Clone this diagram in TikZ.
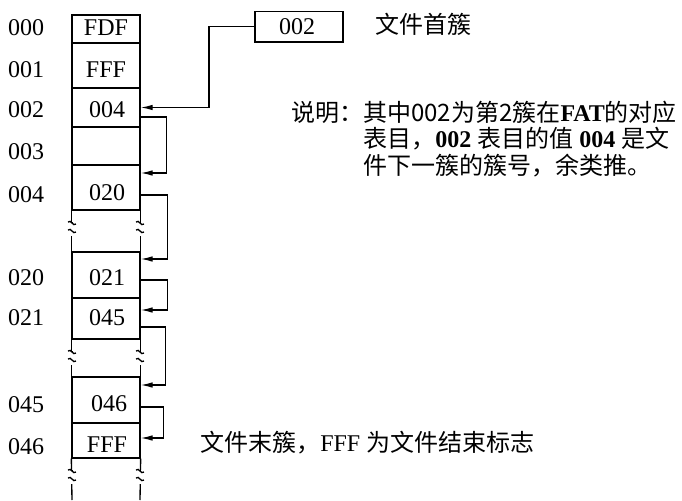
\documentclass[tikz,border=0pt]{standalone}
\usepackage{fontspec}
\setmainfont{Liberation Serif}
\newfontfamily\cjk{Noto Sans CJK SC}
\usetikzlibrary{arrows.meta,calc}
\begin{document}
\begin{tikzpicture}[x=0.75pt,y=-0.75pt,
  every node/.style={inner sep=0pt},
  cell/.style={draw,line width=1pt,minimum width=51pt},
  val/.style={font=\fontsize{18}{18}\selectfont},
  addr/.style={font=\fontsize{18}{18}\selectfont},
  note/.style={anchor=west,font=\fontsize{18}{18}\selectfont},
  link/.style={line width=1pt,-{Latex[length=9pt,width=4.2pt]}},
  edge/.style={line width=1pt},
  brk/.pic={
    \fill[white] (-6,-7) rectangle (6,7);
    \draw[line width=1pt] (-4,-7) .. controls (-1,-10) and (1,-2) .. (4,-5);
    \draw[line width=1pt] (-4,1) .. controls (-1,-2) and (1,6) .. (4,3);
    \draw[line width=1pt] (0,-7) -- (0,-6.5);
  }]
\useasboundingbox (0,0) rectangle (682,500);
% table cells
\node[cell,minimum height=21pt]   (r000) at (106,29)    {};
\node[cell,minimum height=33.75pt](r001) at (106,65.5)  {};
\node[cell,minimum height=29.25pt](r002) at (106,107.5) {};
\node[cell,minimum height=28.5pt] (r003) at (106,146)   {};
\node[cell,minimum height=33.75pt](r004) at (106,187.5) {};
\node[cell,minimum height=34.5pt] (r020) at (106,275)   {};
\node[cell,minimum height=30.75pt](r021) at (106,318.5) {};
\node[cell,minimum height=34.5pt] (r045) at (106,400)   {};
\node[cell,minimum height=26.25pt](r046) at (106,440.5) {};
% cell values
\node[val] (v000) at (106,28)  {FDF};
\node[val] (v001) at (106,70)  {FFF};
\node[val] (v002) at (107,110) {004};
\node[val] (v004) at (107,193) {020};
\node[val] (v020) at (107,278) {021};
\node[val] (v021) at (107,318) {045};
\node[val] (v045) at (109,404) {046};
\node[val] (v046) at (107,445) {FFF};
% continuing edges with breaks
\draw[edge] (r004.south west) -- (r020.north west);
\draw[edge] (r004.south east) -- (r020.north east);
\draw[edge] (r021.south west) -- (r045.north west);
\draw[edge] (r021.south east) -- (r045.north east);
\coordinate (bl) at (72,500);
\coordinate (br) at (140,500);
\draw[edge] (r046.south west) -- (bl);
\draw[edge] (r046.south east) -- (br);
\pic at (72,229) {brk};
\pic at (140,229) {brk};
\pic at (72,358) {brk};
\pic at (140,358) {brk};
\pic at (72,477) {brk};
\pic at (140,477) {brk};
% addresses
\node[addr] (a000) at (26,28)  {000};
\node[addr] (a001) at (26,70)  {001};
\node[addr] (a002) at (26,110) {002};
\node[addr] (a003) at (26,152) {003};
\node[addr] (a004) at (26,195) {004};
\node[addr] (a020) at (26,278) {020};
\node[addr] (a021) at (26,318) {021};
\node[addr] (a045) at (26,405) {045};
\node[addr] (a046) at (26,447) {046};
% first cluster box
\node[draw,line width=1pt,minimum width=66pt,minimum height=23pt] (first) at (299,26.5) {};
\node[val] (vfirst) at (297,27) {002};
\draw[link] (first.west) -- (209,26.5) |- (r002.east);
% chain links
\draw[link] ($(r002.east)+(0,9.5)$) -- ++(26,0) |- ($(r004.east)+(0,-14.5)$);
\draw[link] ($(r004.east)+(0,7.5)$) -- ++(27,0) |- ($(r020.east)+(0,-16)$);
\draw[link] ($(r020.east)+(0,5)$) -- ++(27,0) |- ($(r021.east)+(0,-8.5)$);
\draw[link] ($(r021.east)+(0,8.5)$) -- ++(25,0) |- ($(r045.east)+(0,-15)$);
\draw[link] ($(r045.east)+(0,7)$) -- ++(23,0) |- ($(r046.east)+(0,-2.5)$);
% texts
\node[note] (t1) at (375,24) {\cjk 文件首簇};
\node[note] (t2) at (291,112) {{\cjk 说明：其中002为第2簇在}\textbf{FAT}{\cjk 的对应}};
\node[note] (t3) at (363,139) {{\cjk 表目，}\textbf{002} {\cjk 表目的值} \textbf{004} {\cjk 是文}};
\node[note] (t4) at (363,166) {\cjk 件下一簇的簇号，余类推。};
\node[note] (t5) at (200,443) {{\cjk 文件末簇，}FFF {\cjk 为文件结束标志}};
\end{tikzpicture}
\end{document}
